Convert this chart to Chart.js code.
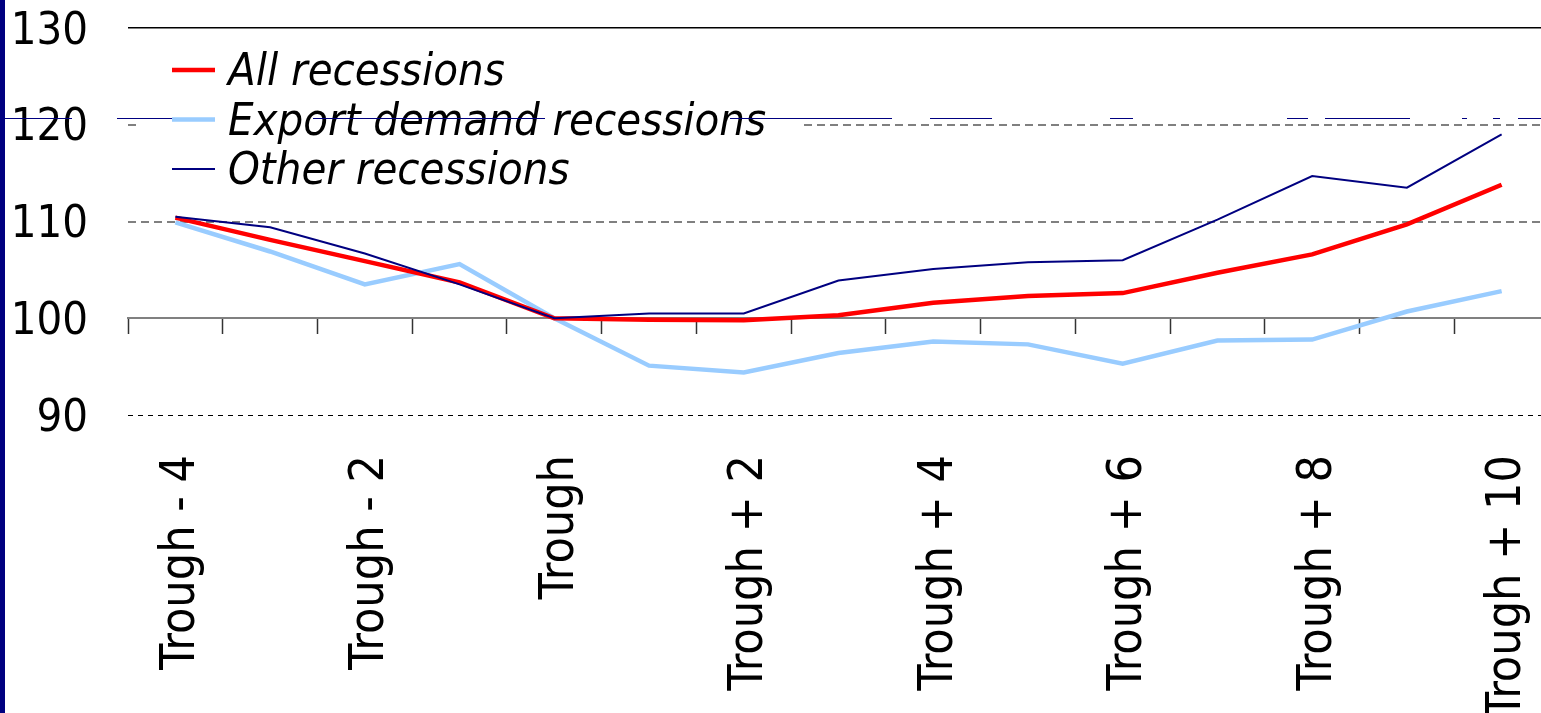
<!DOCTYPE html>
<html>
<head>
<meta charset="utf-8">
<title>Recovery paths</title>
<script src="https://cdn.jsdelivr.net/npm/chart.js@4.4.1/dist/chart.umd.min.js"></script>
<style>
  html, body { margin: 0; padding: 0; background: #fff; overflow: hidden; }
  #wrap { position: relative; width: 1541px; height: 713px; overflow: hidden; }
  #chart { position: absolute; left: 0; top: 0; }
  #edge { position: absolute; left: 0; top: 0; width: 5px; height: 713px; background: #000080; }
</style>
</head>
<body>
<div id="wrap">
  <canvas id="chart" width="1552" height="713"></canvas>
  <div id="edge"></div>
</div>
<script>
const periods = [
  "Trough - 4", "Trough - 3", "Trough - 2", "Trough - 1", "Trough",
  "Trough + 1", "Trough + 2", "Trough + 3", "Trough + 4", "Trough + 5",
  "Trough + 6", "Trough + 7", "Trough + 8", "Trough + 9", "Trough + 10"
];
const tickLabels = [
  "Trough - 4", "", "Trough - 2", "", "Trough",
  "", "Trough + 2", "", "Trough + 4", "",
  "Trough + 6", "", "Trough + 8", "", "Trough + 10"
];
const allRecessions = [110.4, 108.1, 105.9, 103.7, 100.0, 99.85, 99.8, 100.3, 101.6, 102.3, 102.6, 104.7, 106.6, 109.7, 113.8];
const exportRecessions = [109.9, 106.9, 103.5, 105.6, 100.0, 95.1, 94.4, 96.4, 97.6, 97.3, 95.3, 97.7, 97.8, 100.7, 102.8];
const otherRecessions = [110.5, 109.4, 106.7, 103.5, 100.0, 100.5, 100.5, 103.9, 105.1, 105.8, 106.0, 110.2, 114.7, 113.5, 119.0];
const yTicks = [90, 100, 110, 120, 130];

const FONT = "'DejaVu Sans Condensed', 'DejaVu Sans', sans-serif";

// legend panel in the upper left of the plot, plus the thin navy rule across the slide
const legendPanel = {
  id: 'legendPanel',
  beforeDatasetsDraw(chart) {
    const ctx = chart.ctx;
    ctx.save();
    ctx.fillStyle = '#fff';
    ctx.fillRect(136, 38, 664, 164);
    ctx.restore();
  },
  afterDatasetsDraw(chart) {
    const ctx = chart.ctx;
    ctx.save();
    ctx.font = 'italic 45px ' + FONT;
    ctx.textBaseline = 'alphabetic';
    chart.data.datasets.forEach((ds, i) => {
      const y = 70 + i * 49.5;
      ctx.strokeStyle = ds.borderColor;
      ctx.lineWidth = ds.borderWidth;
      ctx.beginPath();
      ctx.moveTo(172, y);
      ctx.lineTo(215, y);
      ctx.stroke();
      ctx.fillStyle = '#000';
      ctx.fillText(ds.label, 228, y + 15);
    });
    ctx.restore();
  },
  afterDraw(chart) {
    const ctx = chart.ctx;
    const segs = [[3, 72], [117, 172], [313, 545], [730, 892], [930, 992], [1110, 1133],
      [1287, 1308], [1325, 1410], [1462, 1467], [1493, 1500], [1518, 1552]];
    ctx.save();
    ctx.strokeStyle = '#000080';
    ctx.lineWidth = 1;
    ctx.beginPath();
    segs.forEach(s => { ctx.moveTo(s[0], 118.5); ctx.lineTo(s[1], 118.5); });
    ctx.stroke();
    ctx.restore();
  }
};

function gridStyle(v) {
  if (v === 130) return { color: '#000', width: 1.5, dash: [] };
  if (v === 100) return { color: 'rgba(0,0,0,0)', width: 1, dash: [] };
  if (v === 90) return { color: '#000', width: 1, dash: [5, 5] };
  return { color: '#808080', width: 2, dash: [8, 5] };
}

// fixed axis boxes so the plot spans 128..1549 horizontally and 28..415 vertically
function pinPadding(s, top, right) {
  s.paddingLeft = 0;
  s.paddingRight = right;
  s.paddingTop = top;
  s.paddingBottom = 0;
}

new Chart(document.getElementById('chart'), {
  type: 'line',
  data: {
    labels: periods,
    datasets: [
      { label: 'All recessions', data: allRecessions, borderColor: '#ff0000', borderWidth: 4.5, order: 2 },
      { label: 'Export demand recessions', data: exportRecessions, borderColor: '#99ccff', borderWidth: 4.5, order: 3 },
      { label: 'Other recessions', data: otherRecessions, borderColor: '#000080', borderWidth: 2, order: 1 }
    ]
  },
  options: {
    responsive: false,
    animation: false,
    layout: { padding: 0 },
    elements: {
      line: { tension: 0, borderCapStyle: 'butt', borderJoinStyle: 'miter' },
      point: { radius: 0, hoverRadius: 0 }
    },
    plugins: { legend: { display: false }, tooltip: { enabled: false } },
    scales: {
      // category axis sitting on the 100 line: axis rule and tick marks only
      x: {
        type: 'category',
        position: { y: 100 },
        offset: true,
        grid: { offset: true, drawOnChartArea: false, drawTicks: true, tickLength: 15, tickColor: '#333', tickWidth: 1.5 },
        border: { display: true, color: '#808080', width: 2 },
        ticks: { display: false },
        afterFit: s => pinPadding(s, 0, 3)
      },
      // same categories along the bottom, labels only
      xLabels: {
        type: 'category',
        axis: 'x',
        position: 'bottom',
        offset: true,
        grid: { display: false, drawTicks: false },
        border: { display: false },
        ticks: {
          autoSkip: false,
          minRotation: 90,
          maxRotation: 90,
          padding: 40,
          labelOffset: 6,
          color: '#000',
          font: { family: FONT, size: 48 },
          callback: (v, i) => tickLabels[i]
        },
        afterFit: s => { s.height = 298; pinPadding(s, 0, 3); }
      },
      y: {
        min: 90,
        max: 130,
        afterBuildTicks: s => { s.ticks = yTicks.map(v => ({ value: v })); },
        grid: {
          drawTicks: false,
          color: c => gridStyle(c.tick.value).color,
          lineWidth: c => gridStyle(c.tick.value).width
        },
        border: { display: false, dash: c => gridStyle(c.tick.value).dash },
        ticks: {
          padding: 40,
          labelOffset: 4,
          color: '#000',
          font: { family: FONT, size: 45 }
        },
        afterFit: s => { s.width = 128; pinPadding(s, 28, 0); }
      }
    }
  },
  plugins: [legendPanel]
});
</script>
</body>
</html>
